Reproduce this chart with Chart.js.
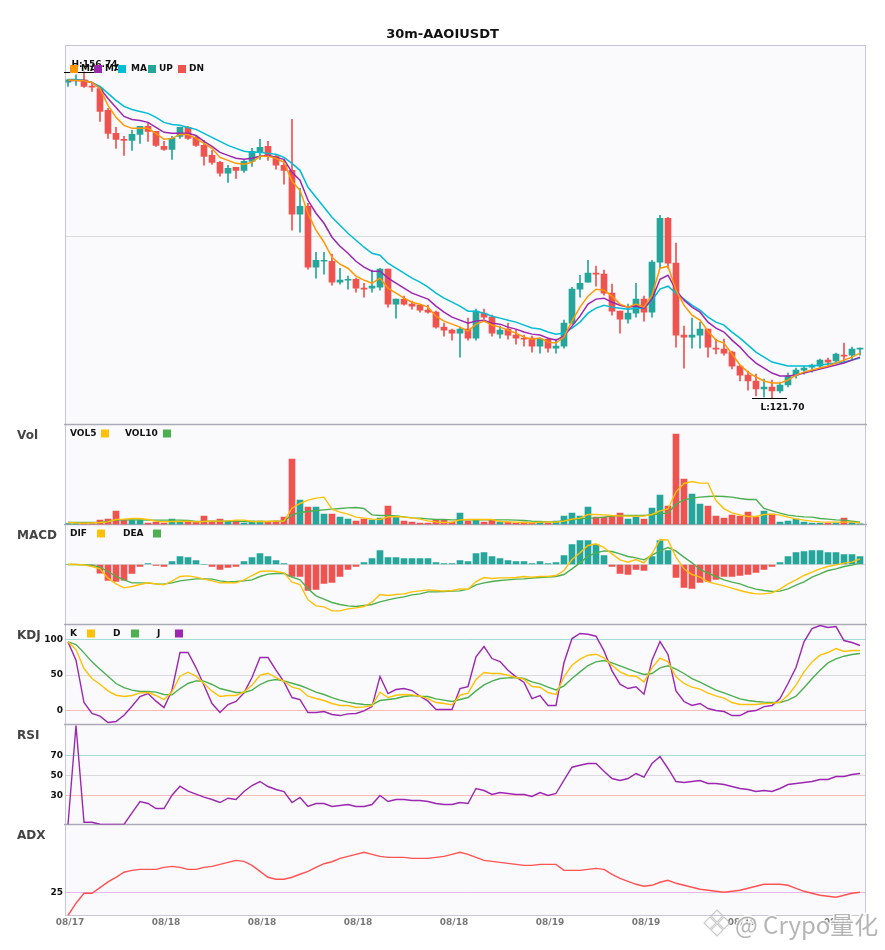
<!DOCTYPE html>
<html>
<head>
<meta charset="utf-8">
<title>30m-AAOIUSDT</title>
<style>
  html, body { margin: 0; padding: 0; background: #fff; }
  canvas { display: block; }
</style>
<script src="https://cdn.jsdelivr.net/npm/chart.js@4/dist/chart.umd.min.js"></script>
</head>
<body>
<canvas id="chart" width="885" height="950"></canvas>
<script>
const chartTitle = '30m-AAOIUSDT';
const tickLabels = ['08/17', '08/18', '08/18', '08/18', '08/18', '08/19', '08/19', '08/19', '08/19'];
const tickStep = 12;

const opens = [155.63,155.82,155.89,155.20,154.93,152.60,150.13,149.49,149.38,150.02,150.88,150.34,148.73,148.41,149.81,150.77,149.70,148.84,147.77,147.02,145.84,146.48,146.16,147.12,148.09,148.73,147.66,146.70,146.16,141.44,142.30,135.75,136.39,136.39,134.14,134.36,134.46,133.50,133.50,133.60,135.54,131.78,132.32,131.78,131.67,131.14,130.92,129.31,128.99,128.67,129.10,128.13,130.81,130.39,128.56,129.10,128.46,128.13,128.13,127.27,128.02,127.06,127.27,129.74,133.39,134.14,135.11,135.00,132.96,131.03,130.17,130.81,132.32,130.92,136.29,141.01,136.18,128.46,128.24,128.46,129.10,127.06,126.95,126.63,125.13,124.16,123.52,122.66,122.88,122.45,123.09,124.16,124.70,125.02,125.13,125.77,125.67,126.31,126.31,126.95];
const closes = [155.89,155.89,155.17,155.10,152.49,150.13,149.49,149.38,150.02,150.88,150.34,148.84,148.41,149.59,150.77,149.59,148.84,147.66,147.02,145.84,146.37,146.16,147.12,148.20,148.63,147.66,146.70,146.16,141.44,142.30,135.75,136.50,136.50,134.14,134.36,134.46,133.50,133.39,133.71,135.54,131.78,132.32,131.78,131.57,131.14,130.92,129.31,128.99,128.67,129.10,128.13,131.03,130.39,128.67,128.99,128.46,128.13,128.02,127.27,128.02,127.06,127.27,129.74,133.39,134.03,135.11,135.00,132.96,131.03,130.17,130.81,132.32,130.92,136.29,141.01,136.18,128.46,128.24,128.46,129.10,127.17,126.95,126.52,125.13,124.16,123.52,122.66,122.88,122.45,123.09,124.06,124.70,124.91,125.24,125.77,125.56,126.42,126.20,126.95,127.06];
const highs = [155.92,156.43,156.74,155.60,155.17,152.81,150.77,149.81,150.45,150.88,151.20,150.34,149.27,149.81,150.77,150.88,149.91,149.38,148.31,147.12,146.70,146.48,147.23,148.52,149.49,149.27,147.77,147.23,151.63,144.23,142.62,137.36,137.36,137.15,135.64,134.79,134.57,134.03,135.43,135.64,135.54,132.32,132.64,132.10,131.67,131.67,131.03,129.74,129.10,129.31,130.28,131.24,131.24,130.60,129.42,129.74,128.99,128.46,128.35,128.13,128.13,128.02,130.06,133.60,134.89,136.50,135.86,135.43,133.93,131.03,131.78,134.03,132.64,136.50,141.33,141.12,138.33,129.42,130.28,129.85,129.10,128.02,128.02,126.74,125.24,124.59,124.27,123.73,123.63,123.41,124.38,124.91,125.13,125.34,125.88,125.99,126.52,127.60,127.17,127.06];
const lows = [155.17,155.28,155.06,154.64,151.42,149.59,148.52,147.77,148.31,149.06,149.27,148.73,148.31,147.34,149.59,149.49,148.73,146.70,146.80,145.52,144.87,145.30,145.94,146.59,147.34,147.23,146.27,144.66,139.72,139.51,135.54,134.57,135.00,133.82,133.93,133.39,133.07,132.53,133.07,133.28,131.46,130.28,131.67,131.24,130.92,130.81,129.21,128.35,127.92,126.09,127.92,127.92,130.17,128.35,128.13,128.02,127.49,127.27,126.63,126.52,126.63,126.52,127.06,129.63,132.53,134.14,133.71,132.75,130.60,128.67,129.74,130.39,129.96,130.39,135.64,135.64,127.17,124.91,127.06,127.06,126.09,126.42,126.31,124.81,123.52,122.55,121.91,121.80,121.70,122.23,122.88,123.84,124.27,124.48,124.91,125.13,125.56,125.56,125.88,126.31];

const ma1 = [155.85,155.82,155.78,155.60,154.96,153.13,151.85,150.99,150.67,150.67,150.67,150.13,149.49,149.59,150.02,150.02,149.59,149.06,148.52,147.55,147.23,146.91,146.80,147.02,147.66,147.66,147.45,147.02,144.98,144.01,141.55,139.72,138.43,136.82,136.07,135.64,134.79,134.36,134.03,134.57,133.50,132.96,132.42,131.99,131.78,131.46,130.49,129.96,129.63,129.31,128.88,129.63,129.96,129.53,129.31,128.99,128.67,128.24,128.02,128.13,127.70,127.60,128.24,129.96,131.46,132.64,133.39,133.28,132.64,131.78,131.46,131.78,131.46,132.75,135.64,135.86,133.28,131.67,130.60,130.06,128.88,127.92,127.60,126.42,125.24,124.48,123.95,123.52,123.30,123.30,123.63,124.16,124.48,124.70,124.91,125.13,125.45,125.77,126.09,126.52];
const ma2 = [155.82,155.82,155.82,155.60,154.96,153.88,152.92,151.95,151.63,151.52,151.31,150.77,150.24,150.13,150.13,150.13,149.91,149.27,148.73,148.09,147.77,147.45,147.34,147.45,147.66,147.77,147.55,147.34,145.94,145.09,142.94,141.55,140.47,138.97,138.00,137.25,136.39,135.75,135.32,135.32,134.57,134.03,133.50,132.96,132.64,132.32,131.57,130.92,130.39,130.06,129.74,129.96,130.06,129.74,129.63,129.31,129.10,128.78,128.56,128.46,128.13,127.92,128.35,129.42,130.49,131.78,132.32,132.42,131.99,131.67,131.46,131.57,131.35,132.32,134.46,134.89,133.28,132.21,131.46,130.92,129.85,129.21,128.78,127.92,127.17,126.20,125.45,124.91,124.38,124.06,124.06,124.16,124.38,124.59,124.81,125.02,125.24,125.45,125.77,126.09];
const ma3 = [155.92,155.92,155.82,155.60,155.17,154.42,153.67,153.03,152.70,152.49,152.28,151.85,151.31,151.09,150.99,150.77,150.56,150.13,149.70,149.27,148.84,148.52,148.20,148.09,148.09,147.98,147.88,147.55,146.91,146.16,144.34,143.26,142.19,141.12,140.26,139.40,138.65,137.90,137.25,137.04,136.18,135.64,135.11,134.57,134.14,133.60,132.96,132.42,131.99,131.57,131.03,131.03,130.81,130.49,130.28,130.06,129.85,129.53,129.21,129.10,128.78,128.56,128.67,129.21,129.85,130.81,131.35,131.67,131.46,131.35,131.24,131.35,131.35,132.21,133.39,133.71,132.96,132.32,131.67,131.14,130.39,129.85,129.53,128.78,128.13,127.38,126.63,126.09,125.56,125.34,125.13,125.13,125.13,125.13,125.24,125.34,125.45,125.56,125.77,125.99];

const volumes = [3,3,3,3,13,16,40,13,13,13,4,7,4,16,7,7,7,25,10,16,10,10,4,10,10,7,10,22,196,73,52,52,31,31,22,16,10,16,13,19,55,25,10,7,4,4,13,13,7,34,10,13,7,13,7,7,4,7,4,7,4,10,25,34,25,52,22,22,25,34,16,22,16,49,88,55,271,136,91,61,55,25,19,28,25,37,22,40,31,7,10,16,7,4,4,4,4,19,7,2];
const vol5 = [6,5,4,5,6,8,15,16,18,18,15,10,8,9,9,10,8,9,10,10,11,13,13,9,9,9,10,10,49,63,73,79,82,46,37,31,22,19,16,15,23,24,22,20,16,11,8,6,7,14,15,15,15,15,9,8,7,6,5,7,7,7,10,16,19,30,30,29,27,26,25,25,25,30,41,47,98,123,129,124,124,72,47,35,29,24,24,30,31,28,22,17,13,10,8,7,7,7,7,5];
const vol10 = [6,6,6,6,6,9,13,14,14,14,13,13,13,13,13,12,9,9,10,10,10,10,9,9,9,9,10,10,29,36,39,42,44,46,48,50,51,48,29,27,27,26,23,20,19,17,15,15,14,14,14,14,14,14,14,14,13,12,10,9,8,8,12,15,17,19,20,22,25,27,27,27,27,29,33,34,61,74,79,82,84,85,84,82,78,75,75,48,41,34,28,25,23,22,18,16,14,13,10,7];

const macdHist = [0,0,0,-.05,-.26,-.48,-.51,-.47,-.27,-.06,.03,-.03,-.06,.09,.24,.21,.12,0,-.06,-.15,-.09,-.06,.09,.21,.33,.24,.12,.03,-.36,-.36,-.78,-.75,-.57,-.54,-.36,-.15,-.06,.06,.18,.42,.21,.21,.18,.18,.18,.18,.06,.03,.03,.12,.09,.33,.36,.24,.18,.12,.09,.09,.03,.09,.03,.06,.27,.60,.72,.72,.60,.27,-.06,-.27,-.30,-.15,-.18,.24,.72,.42,-.39,-.69,-.72,-.54,-.51,-.45,-.36,-.36,-.33,-.30,-.24,-.15,-.06,.06,.24,.36,.39,.42,.42,.36,.36,.30,.30,.24];
const dif = [0,0,-.01,-.06,-.13,-.41,-.58,-.70,-.66,-.60,-.55,-.58,-.61,-.50,-.36,-.34,-.38,-.44,-.49,-.55,-.54,-.55,-.46,-.33,-.21,-.19,-.21,-.25,-.53,-.60,-1.06,-1.24,-1.27,-1.39,-1.39,-1.33,-1.30,-1.26,-1.13,-.90,-.93,-.90,-.88,-.82,-.79,-.76,-.78,-.80,-.78,-.73,-.74,-.51,-.39,-.42,-.40,-.40,-.39,-.36,-.38,-.36,-.36,-.33,-.18,.15,.35,.57,.62,.51,.32,.14,.07,.15,.05,.32,.75,.73,.22,-.13,-.30,-.38,-.52,-.58,-.64,-.71,-.78,-.84,-.88,-.88,-.85,-.74,-.58,-.46,-.33,-.23,-.13,-.06,-.01,.04,.07,.17];
const dea = [0,0,-.01,-.02,-.08,-.21,-.36,-.46,-.55,-.55,-.56,-.58,-.59,-.55,-.49,-.46,-.43,-.43,-.44,-.49,-.52,-.51,-.49,-.46,-.36,-.29,-.27,-.27,-.38,-.46,-.73,-.94,-1.04,-1.14,-1.20,-1.24,-1.26,-1.23,-1.20,-1.12,-1.06,-1.01,-.97,-.91,-.88,-.82,-.82,-.81,-.80,-.79,-.74,-.61,-.55,-.51,-.48,-.46,-.44,-.43,-.41,-.39,-.38,-.36,-.30,-.13,.05,.25,.35,.41,.39,.32,.24,.20,.14,.28,.41,.51,.40,.22,.05,-.15,-.26,-.36,-.46,-.53,-.58,-.67,-.74,-.78,-.81,-.80,-.73,-.62,-.52,-.38,-.28,-.18,-.13,-.06,-.02,.04];

const kdjK = [96.8,86.0,59.2,45.1,37.1,27.7,21.6,19.7,21.2,24.9,25.4,21.2,15.5,26.3,48.4,54.1,48.4,38.1,27.3,19.7,21.2,21.2,26.3,35.7,49.8,52.6,46.5,41.4,32.9,30.1,20.2,16.9,14.1,9.9,7.1,7.1,4.2,5.2,7.1,25.9,18.3,21.6,22.6,22.1,20.2,16.9,11.3,9.9,8.0,21.6,24.4,43.7,53.6,52.2,52.2,49.8,46.5,44.2,33.8,32.9,25.4,22.6,47.5,63.9,72.4,78.0,79.4,74.3,63.9,54.5,49.4,48.4,40.4,60.2,73.8,68.6,47.5,38.1,32.9,30.1,24.4,20.7,17.4,11.3,8.5,8.5,8.5,9.9,10.3,11.8,21.6,35.7,54.5,68.6,78.0,81.8,87.4,83.2,84.6,84.6];
const kdjD = [96.8,93.1,81.3,68.6,58.3,48.4,38.1,32.4,28.7,26.8,26.8,25.9,22.6,22.1,31.0,38.1,41.8,41.4,36.7,31.0,28.2,25.4,25.4,28.7,36.7,41.8,43.7,41.8,38.5,35.3,31.0,25.9,22.6,18.3,14.6,11.8,9.9,8.5,8.0,14.1,15.5,16.9,19.7,21.2,20.2,19.7,16.5,14.6,12.7,15.5,18.3,27.7,36.2,41.4,45.1,46.1,46.5,45.1,40.4,37.6,32.9,29.1,34.8,45.1,54.5,63.5,68.6,70.5,67.2,63.0,58.8,54.5,50.8,52.2,60.2,63.0,58.3,52.2,45.1,40.0,34.3,28.7,24.9,20.7,16.5,14.1,12.7,11.8,11.3,11.3,14.6,20.2,32.0,44.7,56.9,67.2,72.9,76.6,79.0,80.4];
const kdjJ = [96.8,71.0,11.3,-4.2,-8.0,-16.9,-15.5,-6.6,6.1,19.7,24.0,13.2,4.2,28.7,81.8,81.8,60.6,35.7,9.9,-2.8,8.5,12.7,24.9,46.5,74.7,74.7,56.9,40.4,18.3,15.5,-2.8,-2.8,-1.4,-5.6,-7.1,-4.7,-4.2,-0.5,5.6,47.9,24.0,29.6,31.0,28.2,20.2,13.2,1.4,1.4,1.4,31.0,33.8,75.7,90.2,73.3,69.1,56.9,47.5,39.5,16.9,21.2,7.1,7.1,67.7,101.5,108.6,107.6,104.8,84.1,55.9,37.1,31.0,33.4,23.0,71.0,97.3,79.0,27.7,12.7,7.1,9.9,2.8,0,-1.4,-7.1,-7.1,-1.4,0,5.6,7.1,16.9,38.1,60.6,96.8,115.6,119.9,117.0,118.4,98.7,95.9,91.7];

const rsi = [1,100,3.3,3.3,1.3,1,1,1,12.7,24,22,17,17,30.3,39.3,34.3,31.3,28.3,26,23,27.3,26,34,40,44,39,36,34,23,28,19,22,22,19,20,21,19,19,21,30,24,26,26,25,25,24,22,21,21,23,22,37,35,31,33,32,31,31,29,33,30,32,45.3,58.3,60.3,62,62,54.3,47,45,47,52,48.3,62,69,57,44,43,44,45,42,42,41,39,37,36,34,35,34,37,41,42,43,44,46,46,49,49,51,52];

const adx = [0,13.5,24.5,24.5,30.7,36.9,42.0,47.5,49.6,50.7,50.7,50.7,52.9,54.0,52.9,50.7,50.7,52.9,54.0,56.2,58.4,60.6,59.5,55.1,48.5,42.0,39.8,39.8,42.0,45.3,48.5,52.9,56.9,59.1,62.8,65.0,67.2,69.4,67.2,65.0,63.9,63.9,63.9,62.8,62.8,62.8,63.9,65.0,67.2,69.4,67.2,63.9,60.6,59.5,58.4,57.3,56.2,55.1,55.1,56.2,56.2,56.2,49.6,49.6,49.6,50.7,51.8,50.7,45.3,40.9,37.6,34.3,32.1,33.2,36.5,38.7,35.4,33.2,31.0,28.8,27.7,26.6,25.5,26.6,27.7,29.9,32.1,34.3,34.3,34.3,33.2,29.9,26.6,24.5,22.3,21.2,20.1,22.3,24.5,25.5];

const UP = '#26a69a';
const DOWN = '#ef5350';
const ORANGE = '#ff9800';
const PURPLE = '#9c27b0';
const CYAN = '#00bcd4';
const YELLOW = '#ffc107';
const GREEN = '#4caf50';
const GRID = '#d9d9de';
const GRID_HI = '#a5dcd6';
const GRID_LO = '#f8bcbc';
const FONT = '"DejaVu Sans", sans-serif';

const pts = (arr) => arr.map((y, x) => ({ x, y }));
const candleColors = opens.map((o, i) => (closes[i] >= o ? UP : DOWN));

const lineSet = (values, color, yAxisID, width) => ({
  type: 'line',
  data: pts(values),
  yAxisID,
  borderColor: color,
  borderWidth: width,
  pointRadius: 0,
  tension: 0,
  order: 1,
});

const barSet = (data, colors, yAxisID, thickness, order) => ({
  type: 'bar',
  data,
  yAxisID,
  backgroundColor: colors,
  barThickness: thickness,
  grouped: false,
  order,
});

// one y axis per panel, stacked on the left, all sharing the x axis
const panelAxis = (weight, stackOrder, min, max, ticks, colors, showLabels) => ({
  type: 'linear',
  position: 'left',
  stack: 'panels',
  stackWeight: weight,
  weight: stackOrder,
  min,
  max,
  afterFit(scale) {
    scale.width = 65.5;
  },
  afterBuildTicks(scale) {
    scale.ticks = ticks.map((value) => ({ value }));
  },
  border: { display: true, color: '#c6c6d0', width: 1 },
  grid: {
    drawTicks: false,
    color: (ctx) => colors[ctx.index] || GRID,
    lineWidth: 1,
  },
  ticks: {
    display: showLabels,
    autoSkip: false,
    padding: 2.5,
    color: '#111',
    font: { family: FONT, size: 9, weight: 'bold' },
    callback: (v) => v,
  },
});

const panelLegends = [
  { y: 69, items: [
    { text: 'MA', tx: 81, color: ORANGE, sx: 70 },
    { text: 'MA', tx: 105, color: PURPLE, sx: 94 },
    { text: 'MA', tx: 131, color: CYAN, sx: 118 },
    { text: 'UP', tx: 159, color: UP, sx: 148 },
    { text: 'DN', tx: 189, color: DOWN, sx: 178 },
  ] },
  { y: 433.5, items: [
    { text: 'VOL5', tx: 70, color: YELLOW, sx: 101 },
    { text: 'VOL10', tx: 125, color: GREEN, sx: 163 },
  ] },
  { y: 533.5, items: [
    { text: 'DIF', tx: 70, color: YELLOW, sx: 97 },
    { text: 'DEA', tx: 123, color: GREEN, sx: 153 },
  ] },
  { y: 633.5, items: [
    { text: 'K', tx: 70, color: YELLOW, sx: 87 },
    { text: 'D', tx: 113, color: GREEN, sx: 131 },
    { text: 'J', tx: 157, color: PURPLE, sx: 175 },
  ] },
];
const panelNames = [
  { text: 'Vol', axis: 'yVol' },
  { text: 'MACD', axis: 'yMacd' },
  { text: 'KDJ', axis: 'yKdj' },
  { text: 'RSI', axis: 'yRsi' },
  { text: 'ADX', axis: 'yAdx' },
];

const panelsPlugin = {
  id: 'panels',
  beforeDraw(chart) {
    const { ctx, chartArea: a } = chart;
    ctx.save();
    ctx.fillStyle = '#fafafc';
    ctx.fillRect(a.left, a.top, a.right - a.left, a.bottom - a.top);
    // title is centred on the page, not on the plot
    ctx.fillStyle = '#111';
    ctx.font = `bold 13px ${FONT}`;
    ctx.textAlign = 'center';
    ctx.textBaseline = 'middle';
    ctx.fillText(chartTitle, chart.width / 2, 35);
    ctx.restore();
  },
  beforeDatasetsDraw(chart) {
    const { ctx, chartArea: a, scales } = chart;
    ctx.save();
    ctx.lineWidth = 1;
    ctx.strokeStyle = '#c6c6d6';
    ctx.strokeRect(a.left, a.top, a.right - a.left, a.bottom - a.top);
    ctx.strokeStyle = '#aaaab6';
    ctx.lineWidth = 1.4;
    panelNames.forEach(({ axis }) => {
      const y = scales[axis].top;
      ctx.beginPath();
      ctx.moveTo(a.left - 1.5, y);
      ctx.lineTo(a.right + 1.5, y);
      ctx.stroke();
    });
    ctx.restore();
  },
  afterDatasetsDraw(chart) {
    const { ctx, scales } = chart;
    ctx.save();
    ctx.textBaseline = 'middle';

    // high / low markers, found from the candle data
    const x = scales.x;
    const y = scales.yPrice;
    const hi = highs.indexOf(Math.max(...highs));
    const lo = lows.indexOf(Math.min(...lows));
    ctx.fillStyle = '#111';
    ctx.strokeStyle = '#000';
    ctx.lineWidth = 1;
    ctx.font = `bold 9px ${FONT}`;
    ctx.textAlign = 'center';
    [
      { i: hi, v: highs[hi], text: `H:${highs[hi].toFixed(2)}`, dy: -7.5 },
      { i: lo, v: lows[lo], text: `L:${lows[lo].toFixed(2)}`, dy: 9 },
    ].forEach((m) => {
      const px = x.getPixelForValue(m.i);
      const py = Math.round(y.getPixelForValue(m.v)) + 0.5;
      ctx.beginPath();
      ctx.moveTo(px - 20, py);
      ctx.lineTo(px + 15, py);
      ctx.stroke();
      ctx.fillText(m.text, px + 10.5, py + m.dy);
    });

    // legends drawn in order, a later square covers the text before it
    ctx.textAlign = 'left';
    panelLegends.forEach((row) => {
      row.items.forEach((item) => {
        ctx.fillStyle = '#111';
        ctx.fillText(item.text, item.tx, row.y);
        ctx.fillStyle = item.color;
        ctx.fillRect(item.sx, row.y - 4, 8, 8);
      });
    });

    ctx.fillStyle = '#444';
    ctx.font = `bold 12px ${FONT}`;
    panelNames.forEach(({ text, axis }) => {
      ctx.fillText(text, 17, scales[axis].top + 11);
    });
    ctx.restore();
  },
  afterDraw(chart) {
    const { ctx } = chart;
    ctx.save();
    ctx.textBaseline = 'middle';
    ctx.textAlign = 'left';
    ctx.font = '24px "Noto Sans CJK SC"';
    ctx.lineWidth = 3;
    ctx.strokeStyle = 'rgba(255,255,255,0.8)';
    ctx.fillStyle = 'rgba(150,150,150,0.7)';
    ctx.strokeText('@ Crypo量化', 735, 925);
    ctx.fillText('@ Crypo量化', 735, 925);
    // logo diamonds
    ctx.lineWidth = 1.2;
    ctx.strokeStyle = 'rgba(190,190,190,0.8)';
    [[717, 916, 6], [710, 923, 6], [724, 923, 6], [717, 930, 6]].forEach(([cx, cy, r]) => {
      ctx.beginPath();
      ctx.moveTo(cx, cy - r);
      ctx.lineTo(cx + r, cy);
      ctx.lineTo(cx, cy + r);
      ctx.lineTo(cx - r, cy);
      ctx.closePath();
      ctx.stroke();
    });
    ctx.restore();
  },
};

new Chart(document.getElementById('chart').getContext('2d'), {
  data: {
    datasets: [
      lineSet(ma1, ORANGE, 'yPrice', 1.5),
      lineSet(ma2, PURPLE, 'yPrice', 1.5),
      lineSet(ma3, CYAN, 'yPrice', 1.5),
      barSet(opens.map((o, x) => ({ x, y: [o, closes[x]] })), candleColors, 'yPrice', 6, 2),
      barSet(lows.map((l, x) => ({ x, y: [l, highs[x]] })), candleColors, 'yPrice', 1, 3),

      lineSet(vol5, YELLOW, 'yVol', 1.4),
      lineSet(vol10, GREEN, 'yVol', 1.4),
      barSet(pts(volumes), candleColors, 'yVol', 6, 2),

      lineSet(dif, YELLOW, 'yMacd', 1.4),
      lineSet(dea, GREEN, 'yMacd', 1.4),
      barSet(pts(macdHist), macdHist.map((v) => (v >= 0 ? UP : DOWN)), 'yMacd', 6, 2),

      lineSet(kdjK, YELLOW, 'yKdj', 1.4),
      lineSet(kdjD, GREEN, 'yKdj', 1.4),
      lineSet(kdjJ, PURPLE, 'yKdj', 1.4),

      lineSet(rsi, PURPLE, 'yRsi', 1.4),

      lineSet(adx, '#ff5252', 'yAdx', 1.4),
    ],
  },
  options: {
    responsive: false,
    animation: false,
    layout: { padding: { left: 0, right: 19.5, top: 45.5, bottom: 0 } },
    plugins: {
      legend: { display: false },
      tooltip: { enabled: false },
    },
    scales: {
      x: {
        type: 'linear',
        offset: false,
        min: -0.3125,
        max: 99.6875,
        afterFit(scale) {
          scale.height = 34.5;
        },
        afterBuildTicks(scale) {
          scale.ticks = tickLabels.map((_, k) => ({ value: k * tickStep }));
        },
        border: { display: false },
        grid: { display: false, drawTicks: false },
        ticks: {
          autoSkip: false,
          maxRotation: 0,
          labelOffset: 2,
          padding: 2,
          color: '#777',
          font: { family: FONT, size: 9, weight: 'bold' },
          callback: (v) => tickLabels[v / tickStep],
        },
      },
      yPrice: panelAxis(379, 6, 118.85, 159.57, [139.1], [GRID], false),
      yVol: panelAxis(100, 5, 0, 300, [], [], false),
      yMacd: panelAxis(100, 4, -1.8, 1.2, [0], [GRID], false),
      yKdj: panelAxis(100, 3, -19.7, 121.3, [0, 50, 100], [GRID_LO, GRID, GRID_HI], true),
      yRsi: panelAxis(100, 2, 1, 101, [30, 50, 70], [GRID_LO, GRID, GRID_HI], true),
      yAdx: panelAxis(91, 1, 0, 100, [25], ['#e6b8e6'], true),
    },
  },
  plugins: [panelsPlugin],
});
</script>
</body>
</html>
